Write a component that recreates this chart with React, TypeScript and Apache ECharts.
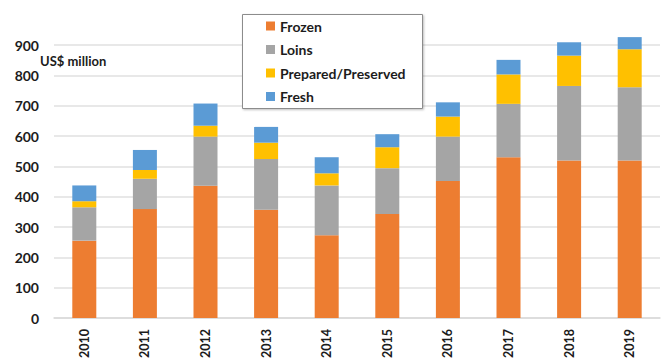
import React, { useEffect, useRef } from "react";
import * as echarts from "echarts";

// Export values by product type, US$ million
const years = ["2010", "2011", "2012", "2013", "2014", "2015", "2016", "2017", "2018", "2019"];
const frozen = [255, 359, 436, 357, 273, 343, 452, 530, 519, 519];
const loins = [110, 100, 162, 167, 164, 151, 146, 176, 246, 242];
const prepared = [20, 29, 36, 54, 40, 69, 66, 97, 100, 125];
const fresh = [52, 66, 73, 52, 53, 43, 47, 48, 44, 40];

const seriesNames = ["Frozen", "Loins", "Prepared/Preserved", "Fresh"];
const seriesColors = ["#ED7D31", "#A5A5A5", "#FFC000", "#5B9BD5"];
const seriesData = [frozen, loins, prepared, fresh];

const FONT = "Lato, 'Open Sans', sans-serif";
const TEXT = "#1c1c1c";

export default function App() {
  const ref = useRef<HTMLDivElement>(null);

  useEffect(() => {
    if (!ref.current) return;
    const chart = echarts.init(ref.current, null, { renderer: "svg" });
    chart.setOption({
      animation: false,
      backgroundColor: "#ffffff",
      textStyle: { fontFamily: FONT },
      grid: {
        left: 54,
        right: 1,
        top: 45,
        bottom: 40,
        containLabel: false,
        outerBoundsMode: "none",
      },
      xAxis: {
        type: "category",
        data: years,
        axisLine: { show: true, lineStyle: { color: "#d9d9d9", width: 1.5 } },
        axisTick: { show: false },
        axisLabel: {
          rotate: 90,
          margin: 11,
          fontSize: 12.5,
          fontWeight: "bold",
          color: TEXT,
          fontFamily: FONT,
        },
      },
      yAxis: {
        type: "value",
        min: 0,
        max: 900,
        interval: 100,
        axisLine: { show: false },
        axisTick: { show: false },
        axisLabel: {
          margin: 15,
          fontSize: 14,
          fontWeight: "bold",
          color: TEXT,
          fontFamily: FONT,
        },
        splitLine: { lineStyle: { color: "#e0e0e0", width: 1.5 } },
      },
      legend: {
        orient: "vertical",
        left: 261,
        top: 14,
        itemWidth: 9,
        itemHeight: 9,
        itemGap: 9.5,
        icon: "rect",
        z: 10,
        textStyle: {
          fontSize: 14,
          fontWeight: "bold",
          color: TEXT,
          fontFamily: FONT,
          lineHeight: 14,
          padding: [0, 0, 0, 0],
        },
        data: seriesNames,
      },
      graphic: [
        {
          type: "rect",
          z: 9,
          shape: { x: 242.5, y: 14.5, width: 180, height: 94 },
          style: {
            fill: "#ffffff",
            stroke: "#8c8c8c",
            lineWidth: 1,
            shadowBlur: 2,
            shadowOffsetX: 1,
            shadowOffsetY: 1,
            shadowColor: "rgba(0,0,0,0.25)",
          },
        },
        {
          type: "text",
          z: 9,
          left: 40,
          top: 54,
          style: {
            text: "US$ million",
            fontSize: 13,
            fontWeight: "bold",
            fill: TEXT,
            fontFamily: FONT,
          },
        },
      ],
      series: seriesNames.map((name, i) => ({
        name,
        type: "bar",
        stack: "total",
        barWidth: 24,
        clip: false,
        data: seriesData[i],
        itemStyle: { color: seriesColors[i] },
      })),
    });
    return () => chart.dispose();
  }, []);

  return (
    <div
      ref={ref}
      style={{ position: "fixed", left: 0, top: 0, width: 661, height: 358 }}
    />
  );
}
